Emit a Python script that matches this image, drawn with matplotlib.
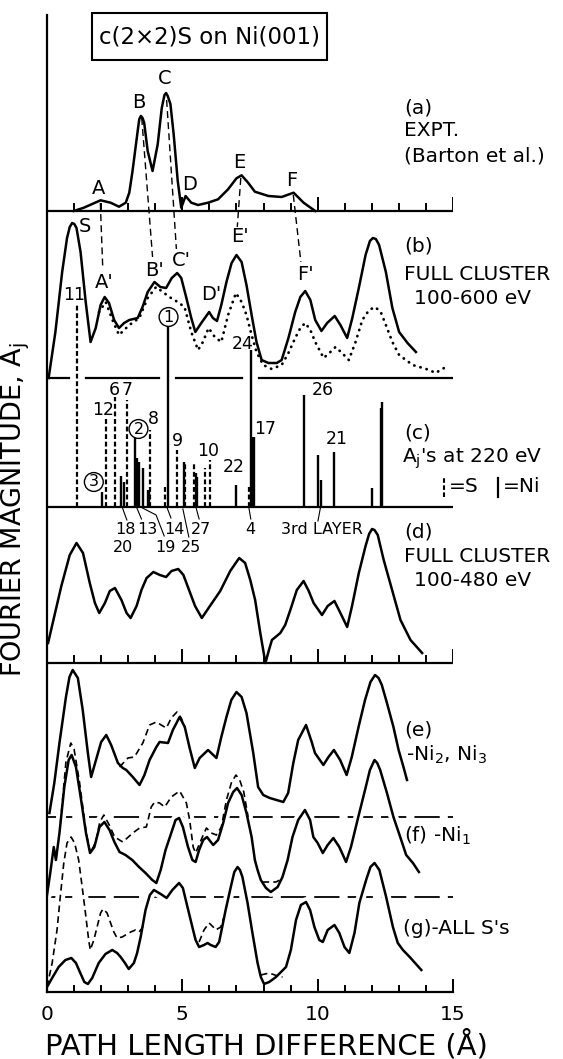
import matplotlib
matplotlib.use("Agg")
import matplotlib.pyplot as plt
from matplotlib.patches import Rectangle
from matplotlib.ticker import MultipleLocator

# ---------------- data: x in Angstrom, amplitudes in pixels of the plate ----
a_x = [0.99, 1.36, 1.98, 2.35, 2.66, 2.91, 3.04, 3.16, 3.35, 3.41, 3.47, 3.53, 3.59, 3.72,
       3.90, 4.09, 4.24, 4.34, 4.40, 4.46, 4.56, 4.68, 4.83, 4.96, 5.12, 5.33, 5.58, 5.95,
       6.32, 6.69, 7.00, 7.19, 7.43, 7.68, 8.18, 8.67, 9.11, 9.48, 9.91]
a_y = [0, 3.3, 10.7, 8.3, 4.3, 8.3, 18.3, 40, 80, 92, 95, 93, 88.3, 60, 40, 66.7, 103, 116,
       118, 115, 107, 76.7, 30, 3.3, 15, 8.3, 6, 8.3, 11.7, 21.7, 32.7, 35.7, 28.3, 19.3, 15,
       14, 18.3, 8.3, 0]

b_x = [0.06, 0.31, 0.56, 0.74, 0.84, 0.93, 1.01, 1.09, 1.24, 1.43, 1.61, 1.80, 1.98, 2.13,
       2.29, 2.48, 2.66, 2.85, 3.04, 3.35, 3.53, 3.72, 3.97, 4.19, 4.40, 4.61, 4.81, 4.96,
       5.14, 5.33, 5.48, 5.70, 5.99, 6.13, 6.28, 6.44, 6.63, 6.82, 7.00, 7.19, 7.37, 7.56,
       7.74, 7.93, 8.18, 8.49, 8.67, 8.92, 9.17, 9.36, 9.54, 9.73, 9.91, 10.14, 10.35,
       10.63, 10.84, 11.09, 11.28, 11.52, 11.77, 11.93, 12.04, 12.15, 12.27, 12.52, 12.76,
       13.01, 13.32, 13.63]
b_y = [0, 46, 106, 140, 151, 155, 154, 150, 126, 76, 36, 50, 73, 81, 75, 58, 50, 55, 58, 60,
       71, 86, 96, 91, 90, 100, 105, 100, 81, 60, 46, 55, 66, 60, 57, 73, 96, 115, 123, 116,
       93, 63, 36, 18, 15, 15, 18, 40, 66, 81, 87, 78, 58, 47, 55, 62, 53, 40, 60, 90, 123,
       137, 140, 139, 133, 106, 70, 46, 35, 26]

bdot_x = [1.92, 2.17, 2.42, 2.66, 2.85, 3.04, 3.41, 3.72, 4.03, 4.28, 4.52, 4.83, 5.08,
          5.33, 5.58, 5.76, 5.97, 6.20, 6.44, 6.69, 6.98, 7.19, 7.37, 7.56, 7.74, 7.99,
          8.30, 8.67, 8.92, 9.17, 9.36, 9.54, 9.73, 9.91, 10.22, 10.47, 10.66, 10.90,
          11.15, 11.40, 11.65, 11.90, 12.12, 12.33, 12.52, 12.76, 13.01, 13.51, 14.13,
          14.35, 14.80]
bdot_y = [66, 76, 58, 43, 48, 53, 60, 80, 91, 86, 81, 76, 71, 46, 28, 36, 50, 41, 36, 63,
          85, 76, 63, 43, 26, 13, 9, 13, 25, 40, 50, 55, 48, 36, 20, 26, 31, 25, 18, 36,
          58, 68, 71, 66, 53, 36, 23, 13, 8, 5, 12]

d_x = [0.04, 0.28, 0.53, 0.84, 1.09, 1.33, 1.58, 1.77, 1.93, 2.14, 2.32, 2.51, 2.75, 2.94,
       3.09, 3.31, 3.49, 3.68, 3.93, 4.17, 4.40, 4.60, 4.85, 5.04, 5.22, 5.47, 5.72, 6.02,
       6.40, 6.77, 7.10, 7.32, 7.51, 7.69, 7.88, 8.07, 8.19, 8.31, 8.62, 8.80, 8.99, 9.23,
       9.48, 9.67, 9.85, 10.16, 10.37, 10.62, 10.84, 11.09, 11.27, 11.52, 11.77, 11.90,
       12.01, 12.10, 12.22, 12.44, 12.75, 13.06, 13.43, 13.86]
d_y = [20, 48, 77, 108, 120, 110, 80, 60, 50, 60, 72, 75, 63, 50, 45, 57, 73, 85, 91, 88,
       86, 92, 94, 88, 75, 57, 45, 57, 72, 92, 105, 100, 83, 63, 30, 0, 12, 23, 30, 38, 53,
       73, 82, 72, 60, 48, 57, 62, 50, 36, 57, 90, 117, 129, 134, 133, 128, 103, 73, 43,
       23, 10]

e_x = [0.09, 0.27, 0.46, 0.70, 0.83, 0.95, 1.14, 1.32, 1.51, 1.63, 1.81, 2.00, 2.19, 2.37,
       2.62, 2.80, 2.93, 3.17, 3.42, 3.60, 3.79, 4.04, 4.16, 4.47, 4.65, 4.90, 5.09, 5.27,
       5.46, 5.64, 5.95, 6.26, 6.44, 6.63, 6.81, 7.00, 7.19, 7.37, 7.62, 7.80, 7.99, 8.23,
       8.73, 8.91, 9.10, 9.28, 9.57, 9.78, 9.90, 10.21, 10.40, 10.60, 10.83, 11.07, 11.26,
       11.51, 11.75, 11.95, 12.12, 12.25, 12.37, 12.56, 12.80, 12.99, 13.17, 13.30]
e_y = [4, 34, 74, 120, 140, 147, 139, 107, 64, 40, 57, 75, 82, 72, 54, 49, 47, 40, 32, 42,
       57, 70, 75, 74, 87, 100, 90, 69, 49, 59, 67, 59, 80, 100, 117, 125, 120, 104, 64, 30,
       22, 19, 15, 24, 54, 77, 92, 75, 64, 52, 60, 67, 57, 42, 60, 90, 117, 135, 142, 139,
       132, 114, 90, 67, 50, 37]
edash_x = [2.68, 2.99, 3.23, 3.54, 3.79, 4.04, 4.22, 4.41, 4.59, 4.80, 4.96, 5.09]
edash_y = [50, 59, 60, 74, 92, 95, 92, 89, 99, 105, 99, 90]

f_x = [0.00, 0.12, 0.25, 0.33, 0.46, 0.64, 0.80, 0.91, 1.07, 1.26, 1.44, 1.59, 1.75, 1.94,
       2.12, 2.31, 2.49, 2.68, 2.90, 3.15, 3.40, 3.64, 3.89, 4.04, 4.20, 4.38, 4.59, 4.75,
       4.88, 5.02, 5.21, 5.37, 5.49, 5.62, 5.77, 5.91, 6.14, 6.32, 6.51, 6.69, 6.88, 7.02,
       7.19, 7.37, 7.56, 7.68, 7.78, 7.90, 8.09, 8.27, 8.52, 8.70, 8.89, 9.07, 9.28, 9.53,
       9.72, 9.84, 10.00, 10.19, 10.37, 10.58, 10.80, 11.05, 11.23, 11.50, 11.75, 11.93,
       12.10, 12.20, 12.31, 12.56, 12.80, 13.05, 13.27, 13.52, 13.74]
f_y = [2, 24, 50, 37, 64, 110, 137, 142, 130, 97, 64, 44, 50, 70, 75, 67, 55, 45, 42, 37,
       30, 24, 17, 14, 27, 47, 64, 77, 79, 70, 50, 37, 35, 47, 57, 60, 52, 57, 74, 94, 105,
       109, 102, 84, 60, 37, 27, 17, 9, 5, 10, 20, 37, 60, 77, 87, 77, 60, 54, 44, 52, 59,
       50, 35, 50, 80, 107, 127, 137, 134, 127, 104, 80, 60, 42, 34, 25]
fdash_x = [0.50, 0.70, 0.88, 1.00, 1.20, 1.45, 1.60, 1.80, 1.95, 2.10, 2.30, 2.50, 2.80,
           3.17, 3.42, 3.67, 3.85, 3.98, 4.16, 4.35, 4.59, 4.90, 5.15, 5.27, 5.40, 5.49,
           5.74, 5.89, 6.07, 6.26, 6.44, 6.63, 6.81, 6.98, 7.12, 7.27, 7.43]
fdash_y = [75, 135, 154, 148, 115, 64, 44, 55, 75, 82, 72, 60, 55, 64, 69, 70, 90, 95, 94,
           90, 100, 106, 94, 77, 50, 44, 60, 69, 64, 62, 70, 97, 114, 122, 117, 105, 80]
fdash2_x = [7.96, 8.20, 8.46, 8.60, 8.70]
fdash2_y = [15, 15, 15, 17, 20]

g_x = [0.00, 0.19, 0.43, 0.68, 0.90, 1.07, 1.23, 1.38, 1.51, 1.67, 1.91, 2.16, 2.41, 2.59,
       2.72, 2.88, 3.02, 3.21, 3.33, 3.46, 3.64, 3.80, 3.95, 4.20, 4.42, 4.63, 4.88, 5.02,
       5.19, 5.37, 5.49, 5.62, 5.80, 5.93, 6.05, 6.23, 6.36, 6.60, 6.79, 6.92, 7.04, 7.13,
       7.22, 7.41, 7.59, 7.78, 7.90, 8.02, 8.21, 8.46, 8.83, 9.01, 9.20, 9.38, 9.57, 9.72,
       9.88, 10.06, 10.19, 10.37, 10.62, 10.80, 10.99, 11.17, 11.36, 11.54, 11.79, 11.95,
       12.10, 12.28, 12.53, 12.78, 12.96, 13.15, 13.40, 13.83]
g_y = [5, 14, 25, 32, 34, 29, 19, 10, 8, 14, 29, 38, 42, 39, 35, 29, 23, 29, 39, 55, 82,
       97, 102, 98, 94, 102, 109, 104, 85, 65, 52, 45, 47, 49, 47, 45, 50, 82, 105, 120, 125,
       122, 115, 89, 59, 29, 15, 8, 10, 15, 25, 42, 72, 87, 90, 82, 65, 52, 50, 62, 67, 59,
       45, 39, 59, 89, 112, 125, 129, 122, 95, 65, 49, 42, 35, 22]
gdash_x = [0.00, 0.19, 0.37, 0.49, 0.62, 0.74, 0.89, 1.02, 1.17, 1.30, 1.42, 1.54, 1.60,
           1.73, 1.85, 1.98, 2.07, 2.22, 2.35, 2.47, 2.59, 2.78, 2.90, 3.09, 3.27, 3.40,
           3.52, 3.56]
gdash_y = [5, 29, 62, 95, 129, 149, 155, 149, 132, 105, 79, 52, 42, 52, 65, 79, 83, 79, 69,
           60, 54, 55, 57, 60, 62, 60, 64, 67]
gdash2_x = [5.62, 5.80, 5.99, 6.14, 6.23, 6.42, 6.54]
gdash2_y = [50, 62, 69, 65, 62, 65, 75]
gdash3_x = [7.90, 8.21, 8.52, 8.70]
gdash3_y = [17, 19, 16, 15]

# A_j's at 220 eV : S (dashed) and Ni (solid) contributions
s_x = [1.12, 2.19, 2.50, 2.97, 3.80, 4.36, 4.81, 5.10, 5.42, 5.82, 6.03, 7.45]
s_h = [202, 89, 110, 107, 77, 22, 57, 45, 44, 39, 47, 22]
ni_x = [2.02, 2.75, 2.83, 3.26, 3.33, 3.40, 3.53, 3.72, 3.78, 4.46, 5.07, 5.50, 5.56, 6.98,
        7.52, 7.58, 7.63, 9.48, 10.01, 10.11, 10.62, 12.02, 12.33, 12.39]
ni_h = [15, 31, 25, 70, 49, 45, 39, 17, 17, 182, 45, 34, 30, 22, 157, 70, 70, 112, 52, 27,
        55, 19, 99, 105]

c_labels = ["11", "24", "12", "6", "7", "8", "9", "10", "22", "17", "26", "21"]
circ_labels = ["1", "2", "3"]
low_labels = ["18", "13", "14", "27", "4", "3rd LAYER", "20", "19", "25"]
peak_a = ["A", "B", "C", "D", "E", "F"]
peak_b = ["S", "A'", "B'", "C'", "D'", "E'", "F'"]
ticks = list(range(16))

# ---------------- layout (pixel rows of the plate) ----------------
W, H = 563, 1059
X0, X15 = 47, 453
YB, YT = 992, 15
R = dict(a=211, b=378, c=507, d=663, e=817, f=897, g=992)

plt.rcParams['font.family'] = ['DejaVu Sans']
fig = plt.figure(figsize=(W / 100, H / 100), dpi=100)
ax = fig.add_axes([X0 / W, 1 - YB / H, (X15 - X0) / W, (YB - YT) / H])
ax.set_xlim(0, 15)
ax.set_ylim(0, YB - YT)
for s in ("top", "right"):
    ax.spines[s].set_visible(False)
ax.spines["left"].set_linewidth(1.6)
ax.spines["bottom"].set_linewidth(1.6)
ax.set_yticks([])
ax.set_xticks([0, 5, 10, 15])
ax.xaxis.set_minor_locator(MultipleLocator(1))
ax.tick_params(axis="x", which="major", direction="in", length=9.5, width=1.4,
               labelsize=14.5, pad=9)
ax.tick_params(axis="x", which="minor", direction="in", length=5, width=1.4)


def yv(row):
    return YB - row


def curve(xs, amps, base, halo=False, **kw):
    ys = [YB - R[base] + v for v in amps]
    if halo:
        ax.plot(xs, ys, color="white", lw=7, zorder=1.2, solid_capstyle="round")
    ax.plot(xs, ys, color="black", zorder=3, solid_joinstyle="round", **kw)


def txt(x, row, s, size=14.5, **kw):
    kw.setdefault("ha", "center")
    kw.setdefault("va", "center")
    ax.text(x, yv(row), s, fontsize=size, zorder=5, clip_on=False, **kw)


# baselines
for key in ("a", "c", "d"):
    ax.plot([0, 15], [yv(R[key])] * 2, color="black", lw=1.6, zorder=1)
for key in ("a", "d"):
    for t in ticks:
        ln = 13 if t % 5 == 0 else 7
        ax.plot([t, t], [yv(R[key]), yv(R[key]) + ln], color="black", lw=1.4, zorder=1)

# (b) baseline broken where tall bars pass through it
tall = sorted(x for x, h in zip(s_x + ni_x, s_h + ni_h) if h > R["c"] - R["b"])
edges = [0.0]
for x in tall:
    edges += [x - 0.32, x + 0.32]
edges.append(15.0)
for i in range(0, len(edges), 2):
    ax.plot([edges[i], edges[i + 1]], [yv(R["b"])] * 2, color="black", lw=1.6, zorder=1)

for key in ("e", "f"):
    ax.plot([0, 15], [yv(R[key])] * 2, color="black", lw=1.3, dashes=(14, 4.5), zorder=1)

# curves
curve(a_x, a_y, "a", lw=1.8)
curve(b_x, b_y, "b", lw=1.8)
curve(bdot_x, bdot_y, "b", lw=2.0, dashes=(0.1, 2.2), dash_capstyle="round")
curve(d_x, d_y, "d", lw=1.8)
curve(e_x, e_y, "e", lw=1.8)
curve(edash_x, edash_y, "e", lw=1.2, dashes=(4, 2.5))
curve(f_x, f_y, "f", halo=True, lw=1.8)
curve(fdash_x, fdash_y, "f", halo=True, lw=1.2, dashes=(4, 2.5))
curve(fdash2_x, fdash2_y, "f", lw=1.2, dashes=(4, 2.5))
curve(g_x, g_y, "g", halo=True, lw=1.8)
curve(gdash_x, gdash_y, "g", halo=True, lw=1.2, dashes=(4, 2.5))
curve(gdash2_x, gdash2_y, "g", lw=1.2, dashes=(4, 2.5))
curve(gdash3_x, gdash3_y, "g", lw=1.2, dashes=(4, 2.5))

# bars of panel (c)
base_c = yv(R["c"])
ax.vlines(s_x, base_c, [base_c + h for h in s_h], colors="black", lw=1.6,
          linestyles=(0, (2.2, 1.2)), zorder=3)
ax.vlines(ni_x, base_c, [base_c + h for h in ni_h], colors="black", lw=1.7, zorder=3)

# dashed connectors between (a) and (b) peaks
conn = [((1.97, 203), (2.06, 268)), ((3.50, 118), (3.90, 257)), ((4.42, 100), (4.78, 249)),
        ((7.16, 178), (7.03, 227)), ((9.10, 195), (9.38, 262))]
for (x1, r1), (x2, r2) in conn:
    ax.plot([x1, x2], [yv(r1), yv(r2)], color="black", lw=1.0, dashes=(5, 3), zorder=2)

# peak labels
for s, x, r in zip(peak_a, [1.92, 3.41, 4.34, 5.27, 7.12, 9.05], [188, 103, 78, 185, 163, 180]):
    txt(x, r, s, size=14)
for s, x, r in zip(peak_b, [1.40, 2.10, 3.97, 4.96, 6.07, 7.12, 9.54],
                   [226, 283, 270, 260, 295, 237, 275]):
    txt(x, r, s, size=14)

# numbers of panel (c)
for s, x, r in zip(c_labels, [0.99, 7.22, 2.07, 2.50, 2.97, 3.92, 4.83, 5.95, 6.90, 8.06,
                              10.20, 10.70],
                   [295, 344, 410, 390, 390, 419, 441, 451, 467, 429, 390, 439]):
    txt(x, r, s, size=12.5)
for s, x, r in zip(circ_labels, [4.49, 3.38, 1.73], [317, 429, 482]):
    txt(x, r, s, size=11.5,
        bbox=dict(boxstyle="circle,pad=0.12", fc="white", ec="black", lw=1.0))

# lower labels with leader lines
for s, x, r in zip(low_labels, [2.91, 3.69, 4.71, 5.68, 7.53, 10.16, 2.79, 4.36, 5.33],
                   [530, 530, 530, 530, 530, 530, 548, 548, 548]):
    txt(x, r, s, size=11.5)
leaders = [[(2.79, 508), (2.95, 520)], [(3.32, 508), (3.49, 519)],
           [(3.53, 508), (4.03, 515), (4.33, 536)], [(4.44, 508), (4.58, 518)],
           [(5.02, 509), (5.24, 537)], [(5.51, 508), (5.62, 519)],
           [(7.46, 508), (7.53, 519)], [(10.10, 508), (10.01, 521)]]
for pts in leaders:
    ax.plot([p[0] for p in pts], [yv(p[1]) for p in pts], color="black", lw=0.8, zorder=2)

# right-hand captions
XR = 13.2
left = dict(ha="left")
txt(XR, 108, "(a)", **left)
txt(XR, 131, "EXPT.", **left)
txt(XR, 156, "(Barton et al.)", **left)
txt(XR, 246, "(b)", **left)
txt(XR, 274, "FULL CLUSTER", **left)
txt(XR + 0.35, 298, "100-600 eV", **left)
txt(XR, 433, "(c)", **left)
txt(XR - 0.1, 459, r"A$_\mathregular{j}$'s at 220 eV", **left)
ax.plot([14.67, 14.67], [yv(497), yv(478)], color="black", lw=1.5,
        dashes=(2.2, 1.2), clip_on=False)
txt(14.85, 487, "=S", **left)
ax.plot([16.67, 16.67], [yv(497), yv(478)], color="black", lw=1.6, clip_on=False)
txt(16.85, 487, "=Ni", **left)
txt(XR, 532, "(d)", **left)
txt(XR, 557, "FULL CLUSTER", **left)
txt(XR + 0.35, 580, "100-480 eV", **left)
txt(XR, 730, "(e)", **left)
txt(XR + 0.05, 755, r"-Ni$_\mathregular{2}$, Ni$_\mathregular{3}$", **left)
txt(XR, 836, r"(f) -Ni$_\mathregular{1}$", **left)
txt(XR - 0.05, 928, "(g)-ALL S's", **left)

# title box
ax.add_patch(Rectangle((1.67, yv(60)), 10.33 - 1.67, 47, fill=False, lw=1.5,
                       clip_on=False, zorder=4))
txt(6.0, 37, "c(2×2)S on Ni(001)", size=16.5)

# axis labels
fig.text(16 / W, 1 - 510 / H, r"FOURIER MAGNITUDE, A$_\mathregular{j}$", fontsize=19.5,
         rotation=90, ha="center", va="center")
fig.text(45 / W, 1 - 1045 / H, "PATH LENGTH DIFFERENCE (Å)", fontsize=21,
         ha="left", va="center")

fig.savefig("out.png", dpi=100, facecolor="white")
